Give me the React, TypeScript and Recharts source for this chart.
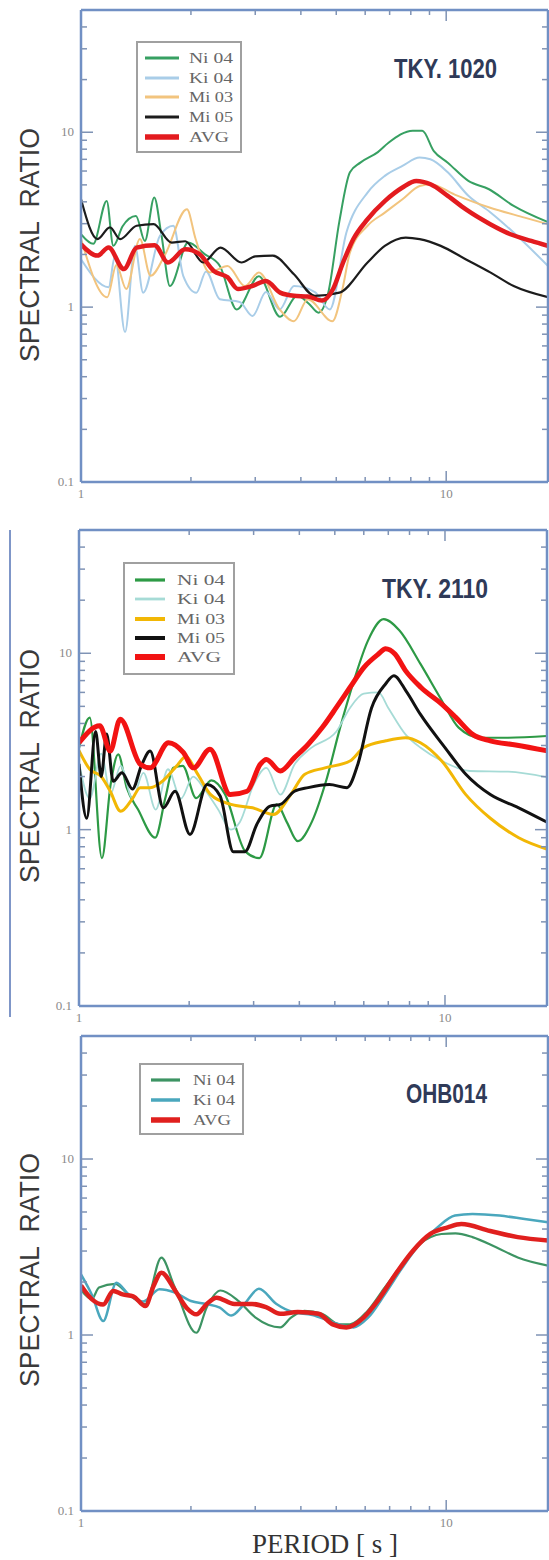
import React from 'react';
import { LineChart, Line, XAxis, YAxis } from 'recharts';

// ---------- TKY. 1020 ----------
const tky1020NiPeriod = [1.0, 1.08, 1.176, 1.226, 1.3, 1.414, 1.496, 1.587, 1.66, 1.752, 1.966, 2.18, 2.4, 2.67, 3.07, 3.51, 3.91, 4.2, 4.47, 4.75, 5.1, 5.45, 5.82, 6.5, 6.95, 8.1, 8.6, 9.25, 10.1, 11.5, 13.1, 15.3, 19.0];
const tky1020NiRatio = [2.61, 2.3, 4.05, 2.24, 2.9, 3.32, 2.39, 4.24, 2.6, 1.32, 2.34, 2.01, 1.72, 0.97, 1.5, 0.88, 1.16, 1.05, 0.93, 1.2, 3.1, 5.9, 6.7, 7.7, 8.7, 10.2, 10.2, 7.8, 6.7, 5.27, 4.72, 3.79, 3.06];
const tky1020KiPeriod = [1.0, 1.19, 1.239, 1.32, 1.405, 1.48, 1.645, 1.79, 1.905, 2.07, 2.2, 2.4, 2.72, 2.95, 3.21, 3.5, 3.83, 4.37, 4.8, 5.33, 6.09, 6.79, 7.59, 8.46, 9.05, 10.1, 11.5, 13.2, 15.3, 19.0];
const tky1020KiRatio = [1.88, 1.3, 1.96, 0.72, 2.24, 1.21, 2.56, 2.92, 1.51, 1.21, 1.6, 1.11, 1.07, 0.89, 1.22, 0.97, 1.32, 1.22, 0.97, 2.67, 4.52, 5.63, 6.42, 7.16, 7.0, 5.9, 4.33, 3.49, 2.67, 1.72];
const tky1020Mi03Period = [1.0, 1.18, 1.25, 1.33, 1.45, 1.55, 1.7, 1.95, 2.06, 2.25, 2.52, 2.81, 3.07, 3.5, 3.83, 4.18, 4.88, 5.2, 5.45, 6.09, 6.79, 7.59, 8.46, 9.05, 10.55, 13.2, 16.4, 19.0];
const tky1020Mi03Ratio = [2.45, 1.14, 1.74, 1.27, 2.45, 1.51, 2.0, 3.63, 2.45, 1.58, 1.72, 1.32, 1.58, 0.97, 0.83, 1.11, 0.83, 1.27, 2.05, 2.92, 3.47, 4.14, 4.93, 5.04, 4.4, 3.7, 3.25, 2.98];
const tky1020Mi05Period = [1.0, 1.11, 1.2, 1.28, 1.42, 1.58, 1.77, 1.93, 2.16, 2.41, 2.75, 3.0, 3.35, 3.83, 4.37, 5.1, 6.09, 6.79, 7.75, 8.46, 9.66, 11.3, 13.2, 15.3, 19.0];
const tky1020Mi05Ratio = [4.14, 2.45, 2.86, 2.45, 2.92, 2.98, 2.34, 2.38, 1.8, 2.19, 1.8, 1.95, 1.97, 1.54, 1.16, 1.21, 1.8, 2.24, 2.5, 2.45, 2.24, 1.88, 1.58, 1.32, 1.14];
const tky1020AvgPeriod = [1.0, 1.11, 1.19, 1.31, 1.42, 1.59, 1.73, 1.93, 2.11, 2.31, 2.52, 2.69, 2.94, 3.21, 3.51, 3.83, 4.18, 4.57, 4.9, 5.22, 5.57, 6.09, 6.8, 7.59, 8.28, 9.06, 10.1, 11.3, 13.2, 15.0, 17.1, 19.0];
const tky1020AvgRatio = [2.29, 1.97, 2.19, 1.65, 2.19, 2.26, 1.8, 2.14, 2.01, 1.61, 1.48, 1.27, 1.32, 1.41, 1.21, 1.16, 1.15, 1.09, 1.27, 1.8, 2.45, 3.18, 4.05, 4.83, 5.27, 5.04, 4.33, 3.63, 2.98, 2.61, 2.39, 2.24];

// ---------- TKY. 2110 ----------
const tky2110NiPeriod = [1.0, 1.07, 1.155, 1.22, 1.28, 1.35, 1.45, 1.615, 1.72, 1.81, 1.92, 2.09, 2.3, 2.5, 2.85, 3.11, 3.47, 3.7, 3.96, 4.33, 4.73, 5.17, 5.64, 6.16, 6.8, 7.5, 8.57, 9.8, 10.9, 12.5, 14.9, 19.2];
const tky2110NiRatio = [2.9, 4.32, 0.69, 1.8, 2.67, 1.73, 1.3, 0.9, 1.5, 2.24, 2.3, 1.51, 1.9, 1.6, 0.75, 0.69, 1.39, 1.1, 0.86, 1.11, 1.88, 3.79, 7.0, 11.8, 15.6, 13.5, 8.7, 5.4, 3.79, 3.32, 3.32, 3.4];
const tky2110KiPeriod = [1.0, 1.07, 1.15, 1.22, 1.3, 1.4, 1.5, 1.62, 1.75, 1.9, 2.05, 2.2, 2.4, 2.6, 2.75, 3.0, 3.25, 3.55, 3.88, 4.3, 5.05, 5.5, 6.0, 6.58, 7.0, 7.8, 8.6, 9.8, 11.7, 14.9, 19.2];
const tky2110KiRatio = [2.4, 1.5, 2.7, 1.6, 2.3, 1.5, 2.1, 1.3, 2.2, 1.5, 2.0, 1.7, 1.3, 1.0, 1.1, 1.8, 2.24, 1.58, 2.34, 2.9, 3.6, 4.9, 5.9, 6.0, 4.9, 3.47, 2.9, 2.45, 2.15, 2.13, 1.97];
const tky2110Mi03Period = [1.0, 1.07, 1.15, 1.217, 1.3, 1.4, 1.47, 1.565, 1.7, 1.85, 1.96, 2.1, 2.29, 2.6, 2.98, 3.4, 3.79, 4.14, 4.7, 5.5, 6.0, 6.9, 7.8, 8.57, 9.8, 11.4, 13.3, 15.9, 19.2];
const tky2110Mi03Ratio = [2.8, 2.2, 2.0, 1.65, 1.27, 1.5, 1.73, 1.73, 1.9, 2.3, 2.6, 2.1, 1.58, 1.39, 1.33, 1.22, 1.58, 2.06, 2.24, 2.45, 2.92, 3.19, 3.32, 3.11, 2.45, 1.58, 1.16, 0.9, 0.77];
const tky2110Mi05Period = [1.0, 1.05, 1.11, 1.15, 1.19, 1.24, 1.31, 1.4, 1.48, 1.565, 1.7, 1.83, 2.01, 2.24, 2.43, 2.64, 2.84, 3.06, 3.33, 3.55, 3.88, 4.23, 4.83, 5.4, 5.78, 6.3, 6.88, 7.25, 7.83, 8.57, 10.0, 11.4, 13.3, 15.9, 19.2];
const tky2110Mi05Ratio = [2.36, 1.16, 3.6, 2.0, 3.48, 1.88, 2.1, 1.7, 2.3, 2.79, 1.33, 1.65, 0.94, 1.8, 1.55, 0.75, 0.75, 1.07, 1.36, 1.39, 1.65, 1.73, 1.8, 1.73, 2.35, 4.9, 6.7, 7.46, 6.1, 4.5, 2.92, 2.06, 1.58, 1.33, 1.09];
const tky2110AvgPeriod = [1.0, 1.14, 1.217, 1.296, 1.47, 1.565, 1.756, 1.93, 2.055, 2.28, 2.59, 2.88, 3.13, 3.25, 3.55, 3.88, 4.23, 4.62, 5.05, 5.5, 6.0, 6.58, 6.88, 7.3, 7.8, 8.6, 9.8, 10.7, 11.9, 13.3, 15.6, 19.2];
const tky2110AvgRatio = [3.11, 3.88, 2.79, 4.23, 2.35, 2.24, 3.11, 2.73, 2.24, 2.86, 1.58, 1.65, 2.35, 2.5, 2.15, 2.56, 3.05, 3.79, 4.93, 6.4, 8.3, 9.9, 10.6, 9.9, 7.97, 6.4, 5.15, 4.33, 3.47, 3.19, 3.02, 2.79];

// ---------- OHB014 ----------
const ohbNiPeriod = [1.0, 1.07, 1.12, 1.24, 1.35, 1.5, 1.66, 1.8, 2.07, 2.21, 2.41, 2.69, 3.0, 3.51, 3.75, 4.09, 4.57, 5.1, 5.45, 6.09, 6.8, 7.59, 8.48, 9.7, 10.6, 11.8, 13.7, 15.7, 19.0];
const ohbNiRatio = [1.8, 1.6, 1.86, 1.95, 1.7, 1.5, 2.75, 1.9, 1.03, 1.44, 1.79, 1.57, 1.26, 1.105, 1.25, 1.37, 1.32, 1.15, 1.15, 1.37, 1.87, 2.53, 3.29, 3.75, 3.78, 3.6, 3.15, 2.76, 2.48];
const ohbKiPeriod = [1.0, 1.07, 1.15, 1.25, 1.35, 1.48, 1.64, 1.8, 2.0, 2.2, 2.4, 2.58, 2.8, 3.07, 3.43, 3.8, 4.3, 4.9, 5.57, 6.1, 6.8, 7.59, 8.48, 9.46, 10.57, 11.8, 14.0, 16.4, 19.0];
const ohbKiRatio = [2.21, 1.7, 1.2, 1.98, 1.7, 1.55, 1.82, 1.75, 1.56, 1.5, 1.43, 1.29, 1.5, 1.83, 1.5, 1.35, 1.3, 1.18, 1.105, 1.25, 1.71, 2.42, 3.3, 4.09, 4.77, 4.87, 4.77, 4.56, 4.37];
const ohbAvgPeriod = [1.0, 1.07, 1.15, 1.225, 1.3, 1.39, 1.5, 1.58, 1.66, 1.81, 1.95, 2.07, 2.21, 2.35, 2.63, 2.94, 3.21, 3.51, 3.92, 4.47, 4.89, 5.33, 5.95, 6.5, 7.27, 8.1, 9.05, 10.1, 11.0, 13.2, 15.7, 19.0];
const ohbAvgRatio = [1.91, 1.6, 1.49, 1.78, 1.7, 1.66, 1.46, 1.9, 2.26, 1.79, 1.42, 1.31, 1.5, 1.63, 1.5, 1.5, 1.44, 1.32, 1.35, 1.32, 1.15, 1.105, 1.26, 1.57, 2.22, 3.0, 3.75, 4.09, 4.27, 3.9, 3.6, 3.44];

// axes
const periodTicks = [1, 2, 3, 4, 5, 6, 7, 8, 9, 10];
const periodLabels = [1, 10];
const ratioTicks = [0.1, 0.2, 0.3, 0.4, 0.5, 0.6, 0.7, 0.8, 0.9, 1, 2, 3, 4, 5, 6, 7, 8, 9, 10, 20, 30, 40];
const ratioLabels = [0.1, 1, 10];

const W = 549;
const FRAME = '#7190c4';
const TICK = '#7f93b5';
const LABEL = '#8a8a8a';

type Pt = { p: number; v: number };
const zip = (ps: number[], vs: number[]): Pt[] => ps.map((p, i) => ({ p, v: vs[i] }));

type Geo = { left: number; right: number; top: number; bottom: number };
type Series = { name: string; color: string; width: number; data: Pt[] };
type LegendBox = { x: number; y: number; w: number; h: number; rows: number[]; x1: number; x2: number; tx: number; tlen: number };

function xTick(g: Geo, side: 'top' | 'bottom') {
  return (props: any) => {
    const { x, payload } = props;
    const v = payload.value;
    const major = v === 1 || v === 10;
    const len = major ? 11 : 5;
    const y0 = side === 'bottom' ? g.bottom : g.top;
    const dir = side === 'bottom' ? -1 : 1;
    return (
      <g>
        {v !== 1 && <line x1={x} x2={x} y1={y0} y2={y0 + dir * len} stroke={TICK} strokeWidth={1.5} />}
        {side === 'bottom' && periodLabels.includes(v) && (
          <text x={x} y={y0 + 16} textAnchor="middle" fontSize={13} fontFamily="'Liberation Serif', serif" fill={LABEL}>
            {v}
          </text>
        )}
      </g>
    );
  };
}

function yTick(g: Geo, side: 'left' | 'right') {
  return (props: any) => {
    const { y, payload } = props;
    const v = payload.value;
    const major = ratioLabels.includes(v);
    const len = major ? 12 : 6;
    const x0 = side === 'left' ? g.left : g.right;
    const dir = side === 'left' ? 1 : -1;
    return (
      <g>
        {v !== 0.1 && <line x1={x0} x2={x0 + dir * len} y1={y} y2={y} stroke={TICK} strokeWidth={1.5} />}
        {side === 'left' && major && (
          <text x={g.left - 7} y={y + 4} textAnchor="end" fontSize={13} fontFamily="'Liberation Serif', serif" fill={LABEL}>
            {v}
          </text>
        )}
      </g>
    );
  };
}

function Panel(props: {
  top: number;
  height: number;
  g: Geo;
  series: Series[];
  title: string;
  titleX: number;
  titleY: number;
  titleLen: number;
  titleSize: number;
  legend: LegendBox;
  yLabelY: number;
  xTitle?: boolean;
}) {
  const { top, height, g, series, legend } = props;
  return (
    <div style={{ position: 'absolute', left: 0, top, width: W, height }}>
      <LineChart width={W} height={height} margin={{ top: 0, right: 0, bottom: 0, left: 0 }}>
        <XAxis
          xAxisId="b"
          dataKey="p"
          type="number"
          scale="log"
          domain={[1, 19]}
          allowDataOverflow
          ticks={periodTicks}
          interval={0}
          tickLine={false}
          tickSize={0}
          tickMargin={0}
          tick={xTick(g, 'bottom')}
          axisLine={{ stroke: FRAME, strokeWidth: 2.5 }}
          height={height - g.bottom}
        />
        <XAxis
          xAxisId="t"
          orientation="top"
          dataKey="p"
          type="number"
          scale="log"
          domain={[1, 19]}
          allowDataOverflow
          ticks={periodTicks}
          interval={0}
          tickLine={false}
          tickSize={0}
          tickMargin={0}
          tick={xTick(g, 'top')}
          axisLine={{ stroke: FRAME, strokeWidth: 2.5 }}
          height={g.top}
        />
        <YAxis
          yAxisId="l"
          dataKey="v"
          type="number"
          scale="log"
          domain={[0.1, 50]}
          allowDataOverflow
          ticks={ratioTicks}
          interval={0}
          tickLine={false}
          tickSize={0}
          tickMargin={0}
          tick={yTick(g, 'left')}
          axisLine={{ stroke: FRAME, strokeWidth: 2.5 }}
          width={g.left}
        />
        <YAxis
          yAxisId="r"
          orientation="right"
          dataKey="v"
          type="number"
          scale="log"
          domain={[0.1, 50]}
          allowDataOverflow
          ticks={ratioTicks}
          interval={0}
          tickLine={false}
          tickSize={0}
          tickMargin={0}
          tick={yTick(g, 'right')}
          axisLine={{ stroke: FRAME, strokeWidth: 2.5 }}
          width={W - g.right}
        />
        {series.map((s) => (
          <Line
            key={s.name}
            xAxisId="b"
            yAxisId="l"
            data={s.data}
            dataKey="v"
            name={s.name}
            type="monotone"
            stroke={s.color}
            strokeWidth={s.width}
            dot={false}
            activeDot={false}
            isAnimationActive={false}
          />
        ))}
      </LineChart>
      <svg width={W} height={height} style={{ position: 'absolute', left: 0, top: 0, pointerEvents: 'none' }}>
        <text
          x={30}
          y={props.yLabelY}
          transform={`rotate(-90 30 ${props.yLabelY})`}
          textAnchor="middle"
          dominantBaseline="central"
          fontFamily="'Liberation Sans', Arial, sans-serif"
          fontSize={27}
          fill="#3a3a3a"
          textLength={234}
          lengthAdjust="spacingAndGlyphs"
          style={{ whiteSpace: 'pre' }}
        >
          {'SPECTRAL  RATIO'}
        </text>
        <text
          x={props.titleX}
          y={props.titleY}
          fontFamily="'Liberation Sans', Arial, sans-serif"
          fontWeight="bold"
          fontSize={props.titleSize}
          fill="#2f3a58"
          textLength={props.titleLen}
          lengthAdjust="spacingAndGlyphs"
        >
          {props.title}
        </text>
        <rect x={legend.x} y={legend.y} width={legend.w} height={legend.h} fill="#fff" stroke="#a0a0a0" strokeWidth={2} />
        {series.map((s, i) => (
          <g key={s.name}>
            <line x1={legend.x1} x2={legend.x2} y1={legend.rows[i]} y2={legend.rows[i]} stroke={s.color} strokeWidth={s.width + 1} />
            <text
              x={legend.tx}
              y={legend.rows[i] + 5}
              fontFamily="'Liberation Serif', serif"
              fontSize={15}
              fill="#666"
              textLength={s.name === 'AVG' ? legend.tlen - 4 : legend.tlen}
              lengthAdjust="spacingAndGlyphs"
              style={{ whiteSpace: 'pre' }}
            >
              {s.name}
            </text>
          </g>
        ))}
        {props.xTitle && (
          <text
            x={325}
            y={height - 7}
            textAnchor="middle"
            fontFamily="'Liberation Serif', serif"
            fontSize={27}
            fill="#333"
            textLength={146}
            lengthAdjust="spacingAndGlyphs"
            style={{ whiteSpace: 'pre' }}
          >
            {'PERIOD [ s ]'}
          </text>
        )}
      </svg>
    </div>
  );
}

export default function App() {
  const tky1020: Series[] = [
    { name: 'Ni 04', color: '#37a062', width: 2, data: zip(tky1020NiPeriod, tky1020NiRatio) },
    { name: 'Ki 04', color: '#a9cde8', width: 2, data: zip(tky1020KiPeriod, tky1020KiRatio) },
    { name: 'Mi 03', color: '#f2c47e', width: 2, data: zip(tky1020Mi03Period, tky1020Mi03Ratio) },
    { name: 'Mi 05', color: '#1c1c1c', width: 2.2, data: zip(tky1020Mi05Period, tky1020Mi05Ratio) },
    { name: 'AVG', color: '#e31b1f', width: 4.5, data: zip(tky1020AvgPeriod, tky1020AvgRatio) },
  ];
  const tky2110: Series[] = [
    { name: 'Ni 04', color: '#2d9a45', width: 2.2, data: zip(tky2110NiPeriod, tky2110NiRatio) },
    { name: 'Ki 04', color: '#a6dbd6', width: 1.8, data: zip(tky2110KiPeriod, tky2110KiRatio) },
    { name: 'Mi 03', color: '#f2b705', width: 3, data: zip(tky2110Mi03Period, tky2110Mi03Ratio) },
    { name: 'Mi 05', color: '#111111', width: 3, data: zip(tky2110Mi05Period, tky2110Mi05Ratio) },
    { name: 'AVG', color: '#f21313', width: 5, data: zip(tky2110AvgPeriod, tky2110AvgRatio) },
  ];
  const ohb014: Series[] = [
    { name: 'Ni 04', color: '#3d9463', width: 2.2, data: zip(ohbNiPeriod, ohbNiRatio) },
    { name: 'Ki 04', color: '#4aa7bd', width: 2.5, data: zip(ohbKiPeriod, ohbKiRatio) },
    { name: 'AVG', color: '#e0201e', width: 4.5, data: zip(ohbAvgPeriod, ohbAvgRatio) },
  ];

  return (
    <div style={{ position: 'absolute', left: 0, top: 0, width: W, height: 1560, background: '#fff', overflow: 'hidden' }}>
      <Panel
        top={0}
        height={520}
        g={{ left: 81, right: 548, top: 10, bottom: 482 }}
        series={tky1020}
        title="TKY. 1020"
        titleX={394}
        titleY={78}
        titleLen={103}
        titleSize={28}
        legend={{ x: 137, y: 42, w: 104, h: 110, rows: [58, 78, 97, 117, 137], x1: 145, x2: 179, tx: 189, tlen: 44 }}
        yLabelY={245}
      />
      <Panel
        top={520}
        height={510}
        g={{ left: 79, right: 547, top: 10, bottom: 486 }}
        series={tky2110}
        title="TKY. 2110"
        titleX={382}
        titleY={78}
        titleLen={106}
        titleSize={28}
        legend={{ x: 124, y: 43, w: 110, h: 111, rows: [60, 79, 99, 118, 137], x1: 135, x2: 165, tx: 177, tlen: 48 }}
        yLabelY={246}
      />
      <div style={{ position: 'absolute', left: 9, top: 530, width: 2, height: 487, background: '#7f96c8' }} />
      <Panel
        top={1030}
        height={530}
        g={{ left: 81, right: 548, top: 6, bottom: 481 }}
        series={ohb014}
        title="OHB014"
        titleX={406}
        titleY={73}
        titleLen={81}
        titleSize={27}
        legend={{ x: 140, y: 34, w: 103, h: 70, rows: [50, 70, 90], x1: 151, x2: 180, tx: 193, tlen: 42 }}
        yLabelY={240}
        xTitle
      />
    </div>
  );
}
